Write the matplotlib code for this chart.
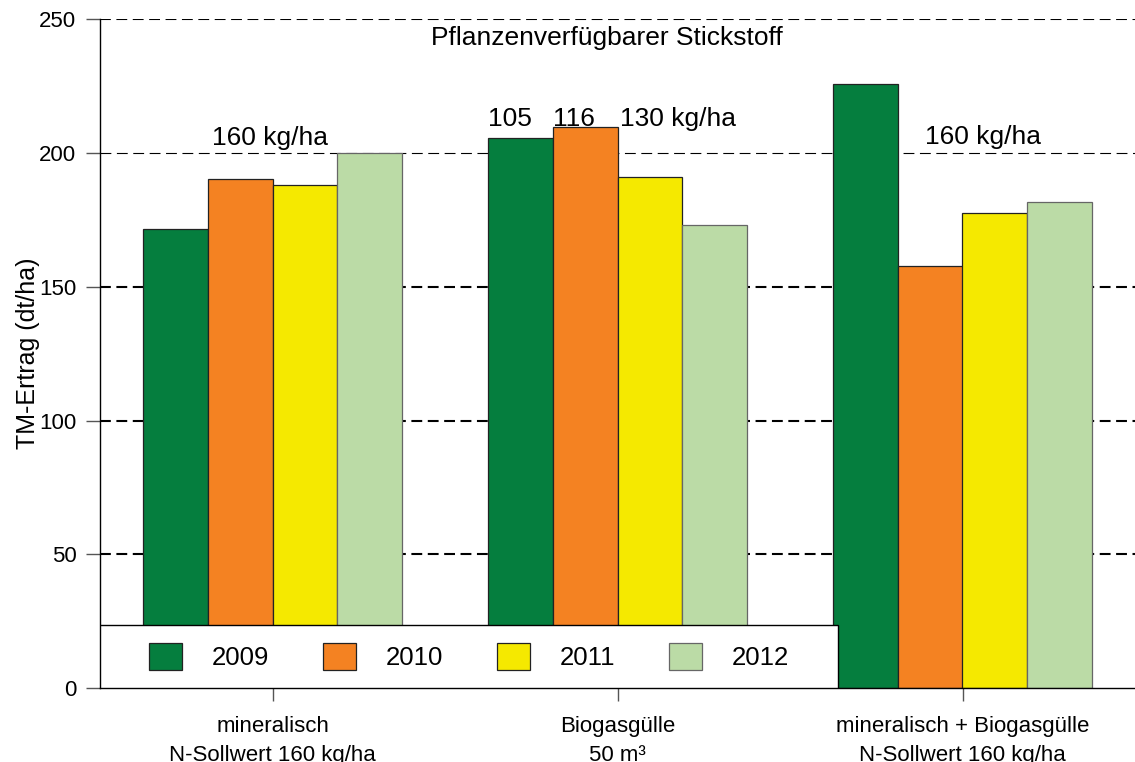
import numpy as np
import matplotlib.pyplot as plt
from matplotlib.patches import Rectangle

plt.rcParams['font.family'] = ['Liberation Sans', 'DejaVu Sans']

groups = ["mineralisch\nN-Sollwert 160 kg/ha", "Biogasgülle\n50 m³",
          "mineralisch + Biogasgülle\nN-Sollwert 160 kg/ha"]
years = ["2009", "2010", "2011", "2012"]
ertrag_2009 = [171.5, 205.5, 225.7]
ertrag_2010 = [190.2, 209.9, 157.8]
ertrag_2011 = [188.1, 191.0, 177.4]
ertrag_2012 = [200.0, 173.1, 181.6]
farben = ["#057e3e", "#f48222", "#f5e900", "#bbdba6"]
kanten = ["#222222", "#222222", "#222222", "#666666"]

werte = [ertrag_2009, ertrag_2010, ertrag_2011, ertrag_2012]

fig = plt.figure(figsize=(11.35, 7.62), dpi=100)
ax = fig.add_axes([100 / 1135, 74 / 762, 1035 / 1135, 668.7 / 762])

x = np.arange(len(groups))
w = 0.1884
for i, (jahr, v) in enumerate(zip(years, werte)):
    ax.bar(x + (i - 1.5) * w, v, w, color=farben[i], edgecolor=kanten[i],
           linewidth=0.9, label=jahr, zorder=2)

# gestrichelte Hilfslinien
for yy in [50, 100, 150, 200, 250]:
    lw = 0.8 if yy == 200 else 1.5
    ax.axhline(yy, color="black", lw=lw, dashes=(7.8 / lw, 4.0 / lw), zorder=1)

ax.set_xlim(-0.5, 2.5)
ax.set_ylim(0, 250)
ax.set_yticks([0, 50, 100, 150, 200, 250])
ax.set_xticks(x)
ax.set_xticklabels(groups, fontsize=16, linespacing=1.5)
ax.tick_params(axis="y", labelsize=16, length=10, width=1, color="#555555", pad=7)
ax.tick_params(axis="x", length=9, width=1, color="#555555", pad=11)
ax.spines["top"].set_visible(False)
ax.spines["right"].set_visible(False)
ax.spines["left"].set_linewidth(1)
ax.spines["bottom"].set_linewidth(1)
ax.set_ylabel("TM-Ertrag (dt/ha)", fontsize=18)
ax.yaxis.set_label_coords(-0.058, 0.5)

ax.text(0.97, 240.5, "Pflanzenverfügbarer Stickstoff", fontsize=19,
        ha="center", va="baseline")
ax.text(-0.175, 203, "160 kg/ha", fontsize=19, va="baseline")
ax.text(0.625, 210, "105", fontsize=19, va="baseline")
ax.text(0.813, 210, "116", fontsize=19, va="baseline")
ax.text(1.007, 210, "130 kg/ha", fontsize=19, va="baseline")
ax.text(1.891, 203.4, "160 kg/ha", fontsize=19, va="baseline")

# Legendenkasten
box = Rectangle((0, 0), 0.713, 0.094, transform=ax.transAxes,
                facecolor="white", edgecolor="black", lw=1, zorder=3)
ax.add_patch(box)
leg = ax.legend(loc="center", bbox_to_anchor=(0.3565, 0.047), ncol=4,
                frameon=False, fontsize=18.5, handlelength=1.28,
                handleheight=1.25, handletextpad=1.15, columnspacing=2.1)
leg.set_zorder(4)

fig.savefig("out.png", dpi=100)
